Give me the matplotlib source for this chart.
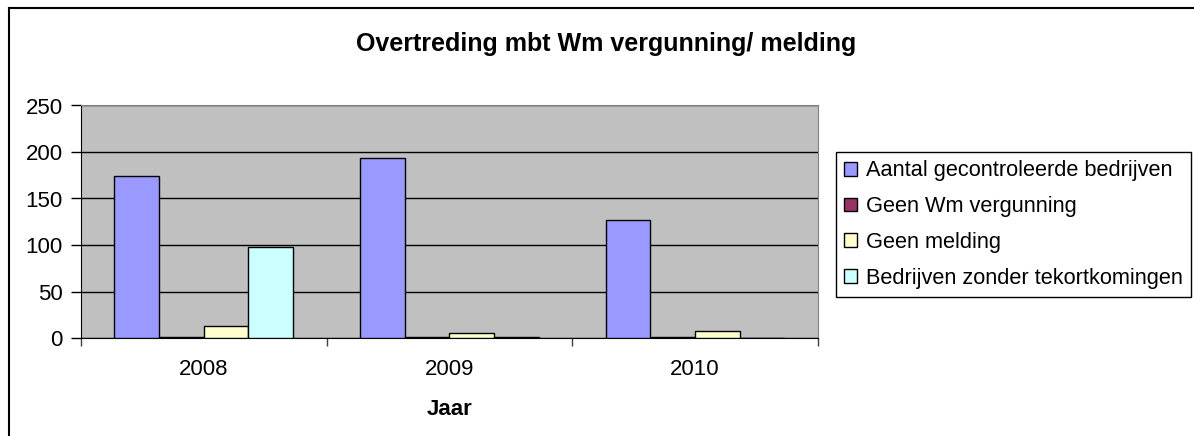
import matplotlib
matplotlib.use("Agg")
import matplotlib.pyplot as plt
from matplotlib.lines import Line2D
from matplotlib.patches import Patch
import numpy as np

plt.rcParams['font.family'] = ['Liberation Sans', 'DejaVu Sans']

years = ['2008', '2009', '2010']
series_names = ['Aantal gecontroleerde bedrijven', 'Geen Wm vergunning',
                'Geen melding', 'Bedrijven zonder tekortkomingen']
gecontroleerd = [174, 194, 127]
geen_vergunning = [1, 1, 1]
geen_melding = [13, 5, 7]
zonder_tekort = [98, 1, 0]
colors = ['#9999FF', '#993366', '#FFFFCC', '#CCFFFF']

W, H = 1194, 436
fig = plt.figure(figsize=(W / 100, H / 100), dpi=100)

# outer chart border (only top and left are visible in the crop)
fig.add_artist(Line2D([8.5 / W, 8.5 / W], [0, 1 - 8.5 / H], color='black', lw=1.5,
                      transform=fig.transFigure))
fig.add_artist(Line2D([8.5 / W, 1], [1 - 8.5 / H, 1 - 8.5 / H], color='black', lw=1.5,
                      transform=fig.transFigure))

ax = fig.add_axes([81 / W, 1 - 338 / H, (818 - 81) / W, (338 - 105.5) / H])
ax.set_facecolor('#C0C0C0')

x = np.arange(len(years))
w = 1 / 5.5
data = [gecontroleerd, geen_vergunning, geen_melding, zonder_tekort]
for i, vals in enumerate(data):
    ax.bar(x + (i - 1.5) * w, vals, w, color=colors[i], edgecolor='black',
           linewidth=1, label=series_names[i], zorder=3)

ax.set_xlim(-0.5, 2.5)
ax.set_ylim(0, 250)
ax.set_yticks([0, 50, 100, 150, 200, 250])
ax.yaxis.grid(True, color='black', linewidth=1)
ax.set_axisbelow(True)
ax.tick_params(axis='y', labelsize=16, length=7, width=1, pad=6)

ax.set_xticks(x)
ax.set_xticklabels(years)
ax.set_xticks([-0.5, 0.5, 1.5, 2.5], minor=True)
ax.tick_params(axis='x', which='major', length=0, labelsize=16, pad=15)
ax.tick_params(axis='x', which='minor', length=6, width=1, color='#404040')

for s in ['top', 'right']:
    ax.spines[s].set_color('#808080')
for s in ['left', 'bottom']:
    ax.spines[s].set_color('black')

ax.set_xlabel('Jaar', fontsize=16, fontweight='bold', labelpad=14)

fig.text(606 / W, 1 - 44 / H, 'Overtreding mbt Wm vergunning/ melding',
         ha='center', va='center', fontsize=18, fontweight='bold')

handles = [Patch(facecolor=c, edgecolor='black', linewidth=1) for c in colors]
leg = fig.legend(handles, series_names, loc='upper left',
                 bbox_to_anchor=(836 / W, 1 - 152 / H), fontsize=15.7,
                 frameon=True, fancybox=False, edgecolor='black', framealpha=1,
                 handlelength=0.6, handleheight=0.6, handletextpad=0.4,
                 labelspacing=0.68, borderpad=0.38, borderaxespad=0)
leg.get_frame().set_linewidth(1)

fig.savefig('out.png', dpi=100)
